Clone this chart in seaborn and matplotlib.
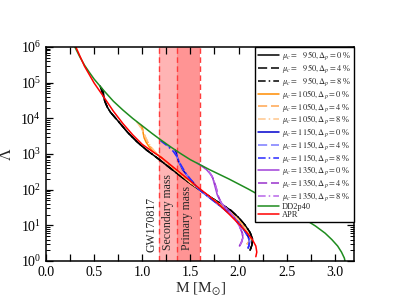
import numpy as np
import matplotlib
matplotlib.use("Agg")
import matplotlib.pyplot as plt
import seaborn as sns
from matplotlib.ticker import MultipleLocator, LogLocator, NullFormatter

# ---- data (M in solar masses, log10 of Lambda) ----
apr_M = [0.31, 0.40, 0.50, 0.60, 0.70, 0.80, 0.90, 1.00, 1.10, 1.20, 1.30, 1.40,
         1.50, 1.60, 1.70, 1.80, 1.90, 2.00, 2.08, 2.14, 2.18, 2.19, 2.18]
apr_logL = [6.00, 5.46, 4.99, 4.60, 4.20, 3.85, 3.54, 3.27, 3.08, 2.90, 2.68, 2.46,
            2.24, 2.02, 1.81, 1.58, 1.32, 1.05, 0.82, 0.62, 0.42, 0.25, 0.12]

dd2_M = [0.30, 0.35, 0.40, 0.45, 0.50, 0.60, 0.70, 0.80, 0.90, 1.00, 1.10, 1.20,
         1.30, 1.40, 1.50, 1.60, 1.70, 1.80, 1.90, 2.00, 2.10, 2.20, 2.30, 2.40,
         2.50, 2.60, 2.70, 2.80, 2.90, 2.97, 3.03, 3.07, 3.10, 3.11]
dd2_logL = [6.00, 5.73, 5.49, 5.29, 5.10, 4.78, 4.48, 4.23, 4.00, 3.79, 3.58, 3.38,
            3.19, 3.01, 2.84, 2.70, 2.56, 2.43, 2.30, 2.16, 2.02, 1.87, 1.73, 1.59,
            1.45, 1.30, 1.15, 0.98, 0.78, 0.60, 0.42, 0.25, 0.08, -0.05]

# hybrid branches: shared tail per mu_c, transition head per Delta_p
tail950_M = [0.64, 0.67, 0.75, 0.85, 0.95, 1.05, 1.15, 1.25, 1.35, 1.45, 1.55, 1.63,
             1.72, 1.82, 1.92, 2.00, 2.07, 2.12, 2.145, 2.14, 2.12]
tail950_logL = [4.30, 4.17, 3.92, 3.60, 3.33, 3.10, 2.90, 2.69, 2.48, 2.27, 2.08, 1.93,
                1.77, 1.60, 1.42, 1.22, 1.00, 0.80, 0.62, 0.45, 0.30]
head950_M = [[0.58, 0.595, 0.60, 0.605, 0.62],
             [0.57, 0.585, 0.60, 0.62],
             [0.56, 0.575, 0.595, 0.62]]
head950_logL = [[4.84, 4.75, 4.65, 4.52, 4.42],
                [4.88, 4.76, 4.60, 4.42],
                [4.92, 4.80, 4.62, 4.42]]

tail1050_M = [1.19, 1.30, 1.40, 1.50, 1.63, 1.72, 1.82, 1.92, 2.00, 2.06, 2.10, 2.12, 2.11, 2.09]
tail1050_logL = [2.92, 2.66, 2.43, 2.20, 1.93, 1.75, 1.56, 1.35, 1.15, 0.95, 0.78, 0.65, 0.55, 0.48]
head1050_M = [[0.99, 1.005, 1.01, 1.02, 1.04, 1.08, 1.13],
              [0.96, 0.99, 1.01, 1.04, 1.08, 1.13],
              [0.94, 0.975, 1.005, 1.04, 1.08, 1.13]]
head1050_logL = [[3.80, 3.70, 3.58, 3.45, 3.33, 3.17, 3.04],
                 [3.86, 3.74, 3.62, 3.42, 3.22, 3.06],
                 [3.91, 3.78, 3.64, 3.44, 3.24, 3.07]]

tail1150_M = [1.57, 1.63, 1.72, 1.82, 1.92, 2.00, 2.06, 2.10, 2.115, 2.11, 2.10]
tail1150_logL = [2.06, 1.92, 1.73, 1.52, 1.30, 1.08, 0.86, 0.68, 0.55, 0.45, 0.36]
head1150_M = [[1.34, 1.355, 1.365, 1.38, 1.42, 1.48, 1.53],
              [1.22, 1.28, 1.33, 1.36, 1.40, 1.46, 1.52],
              [1.19, 1.26, 1.32, 1.36, 1.40, 1.46, 1.52]]
head1150_logL = [[3.12, 3.02, 2.90, 2.78, 2.56, 2.35, 2.20],
                 [3.33, 3.20, 3.06, 2.92, 2.68, 2.42, 2.23],
                 [3.37, 3.23, 3.08, 2.93, 2.70, 2.43, 2.23]]

tail1350_M = [1.82, 1.90, 1.96, 2.01, 2.04, 2.045, 2.03, 2.01]
tail1350_logL = [1.63, 1.40, 1.20, 0.98, 0.78, 0.65, 0.52, 0.42]
head1350_M = [[1.62, 1.66, 1.70, 1.73, 1.745, 1.76, 1.78],
              [1.58, 1.63, 1.68, 1.72, 1.75, 1.77, 1.79],
              [1.56, 1.61, 1.66, 1.71, 1.745, 1.77, 1.79]]
head1350_logL = [[2.67, 2.58, 2.47, 2.35, 2.20, 2.05, 1.85],
                 [2.73, 2.64, 2.54, 2.40, 2.22, 2.03, 1.82],
                 [2.77, 2.68, 2.58, 2.44, 2.25, 2.04, 1.82]]

mu_c = [950, 1050, 1150, 1350]
delta_p = [0, 4, 8]
hybrid_colors = {
    950: ["#000000", "#000000", "#000000"],
    1050: ["#ff8c00", "#ffa54f", "#ffc68c"],
    1150: ["#0000cd", "#7b7bff", "#2a2aff"],
    1350: ["#a040d8", "#9932cc", "#b866e8"],
}
styles = ["-", (0, (6, 2.5)), (0, (5, 2, 1, 2))]

secondary_range = (1.17, 1.36)
primary_range = (1.36, 1.60)

# ---- style ----
sns.set_theme(style="ticks")
plt.rcParams.update({
    "font.family": ["Liberation Serif", "DejaVu Serif"],
    "mathtext.fontset": "stix",
    "axes.edgecolor": "black",
    "axes.linewidth": 1.1,
    "xtick.direction": "in",
    "ytick.direction": "in",
    "xtick.top": True,
    "ytick.right": True,
    "xtick.color": "black",
    "ytick.color": "black",
})

fig = plt.figure(figsize=(3.99, 3.08), dpi=100)
ax = fig.add_axes([46 / 399, 1 - 261 / 308, 308 / 399, 214 / 308])

# GW170817 mass ranges
ax.axvspan(*secondary_range, color="#ffb4b4", lw=0, zorder=0)
ax.axvspan(*primary_range, color="#ff9494", lw=0, zorder=0)
for xv in (secondary_range[0], primary_range[0], primary_range[1]):
    ax.axvline(xv, color="#ff3c3c", lw=1.0, ls=(0, (4, 2.5)), zorder=1)

tails = {950: (tail950_M, tail950_logL), 1050: (tail1050_M, tail1050_logL),
         1150: (tail1150_M, tail1150_logL), 1350: (tail1350_M, tail1350_logL)}
heads = {950: (head950_M, head950_logL), 1050: (head1050_M, head1050_logL),
         1150: (head1150_M, head1150_logL), 1350: (head1350_M, head1350_logL)}

for mu in mu_c:
    tM, tL = tails[mu]
    hM, hL = heads[mu]
    for i, dp in enumerate(delta_p):
        M = np.array(hM[i] + tM)
        L = 10 ** np.array(hL[i] + tL)
        pad = r"\ \ \," if mu < 1000 else ""
        label = r"$\mu_c = %s%d, \Delta_p = %d$ %%" % (pad, mu, dp)
        sns.lineplot(x=M, y=L, sort=False, estimator=None, ax=ax,
                     color=hybrid_colors[mu][i], linestyle=styles[i], lw=1.1, label=label)

sns.lineplot(x=np.array(dd2_M), y=10 ** np.array(dd2_logL), sort=False, estimator=None,
             ax=ax, color="#1e8c1e", lw=1.1, label="DD2p40")
sns.lineplot(x=np.array(apr_M), y=10 ** np.array(apr_logL), sort=False, estimator=None,
             ax=ax, color="#ff0000", lw=1.1, label="APR")

ax.set_yscale("log")
ax.set_xlim(0, 3.2)
ax.set_ylim(1, 1e6)
ax.xaxis.set_major_locator(MultipleLocator(0.5))
ax.xaxis.set_minor_locator(MultipleLocator(0.25))
ax.yaxis.set_major_locator(LogLocator(base=10, numticks=10))
ax.yaxis.set_minor_locator(LogLocator(base=10, subs=np.arange(2, 10), numticks=10))
ax.yaxis.set_minor_formatter(NullFormatter())
ax.tick_params(which="major", length=5, width=0.9, labelsize=10)
ax.tick_params(which="minor", length=3, width=0.7)
ax.tick_params(axis="x", which="minor", length=5, width=0.9)

ax.set_xlabel(r"M [M$_{\odot}$]", fontsize=11, labelpad=1)
ax.set_ylabel(r"$\Lambda$", fontsize=12, labelpad=4)

ax.text(1.10, 10 ** 0.25, "GW170817", rotation=90, ha="center", va="bottom", fontsize=8.5)
ax.text(1.27, 10 ** 0.3, "Secondary mass", rotation=90, ha="center", va="bottom", fontsize=8.5)
ax.text(1.46, 10 ** 0.3, "Primary mass", rotation=90, ha="center", va="bottom", fontsize=8.5)

leg = ax.legend(loc="upper right", borderaxespad=0, fontsize=6, frameon=True,
                fancybox=False, framealpha=1, edgecolor="black", handlelength=2.5,
                handletextpad=0.4, labelspacing=0.0, borderpad=0.3)
leg.get_frame().set_linewidth(1.0)

fig.savefig("out.png", dpi=100)
